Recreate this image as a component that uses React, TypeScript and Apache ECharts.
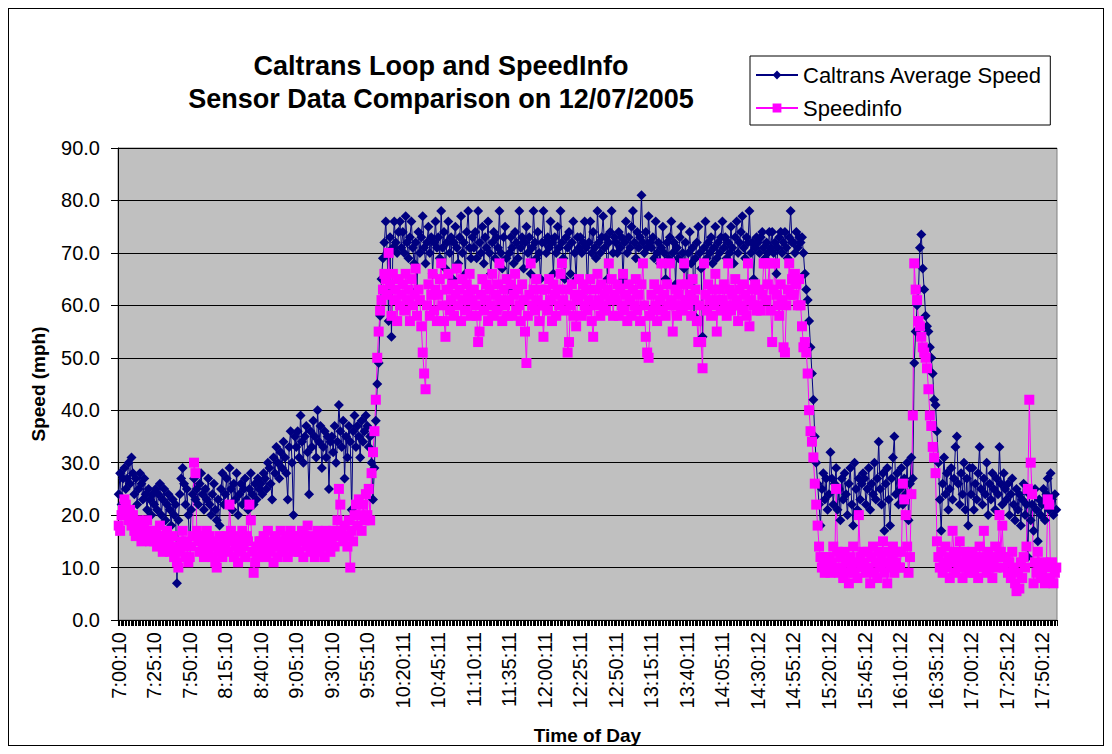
import React, { useEffect, useRef } from "react";
import * as echarts from "echarts";

// Caltrans Average Speed (mph), one reading per minute, grouped by 25-minute blocks
const caltrans_0700 = [24, 28, 22, 27, 29, 25, 27, 30, 26, 31, 28, 24, 27, 22, 25, 28, 26, 23, 27, 24, 21, 25, 23, 20, 24];
const caltrans_0725 = [22, 25, 21, 24, 26, 20, 23, 25, 19, 22, 24, 21, 18, 23, 20, 22, 7, 19, 24, 27, 29, 26, 22, 25, 20];
const caltrans_0750 = [14, 21, 24, 27, 23, 25, 22, 26, 28, 24, 21, 25, 23, 27, 22, 20, 24, 26, 21, 19, 23, 18, 25, 28, 22];
const caltrans_0815 = [24, 27, 22, 29, 25, 21, 26, 23, 28, 20, 24, 26, 22, 25, 27, 23, 21, 25, 28, 24, 22, 26, 23, 27, 25];
const caltrans_0840 = [26, 24, 28, 27, 25, 30, 29, 26, 23, 31, 28, 33, 30, 27, 32, 29, 34, 31, 28, 23, 33, 36, 30, 20, 35];
const caltrans_0905 = [33, 36, 31, 39, 34, 30, 35, 37, 32, 24, 36, 33, 38, 35, 31, 40, 34, 37, 29, 33, 36, 31, 35, 25, 34];
const caltrans_0930 = [35, 32, 37, 30, 34, 41, 36, 33, 38, 27, 35, 31, 37, 34, 21, 36, 39, 33, 37, 35, 31, 38, 34, 36, 39];
const caltrans_0955 = [37, 33, 35, 30, 23, 29, 38, 45, 49, 58, 65, 69, 72, 76, 70, 57, 73, 54, 71, 76, 72, 70, 74, 76, 71];
const caltrans_1020 = [74, 70, 77, 72, 69, 73, 76, 71, 68, 72, 63, 74, 70, 73, 77, 71, 68, 72, 75, 70, 73, 66, 72, 76, 71];
const caltrans_1045 = [73, 69, 78, 71, 74, 67, 72, 76, 70, 73, 65, 72, 75, 71, 68, 73, 77, 70, 72, 66, 74, 78, 71, 69, 73];
const caltrans_1110 = [71, 74, 69, 78, 72, 70, 75, 68, 73, 71, 76, 70, 66, 72, 74, 69, 73, 71, 78, 70, 67, 73, 75, 69, 63];
const caltrans_1135 = [70, 73, 71, 68, 74, 72, 69, 78, 71, 73, 67, 72, 75, 70, 73, 66, 71, 78, 72, 69, 74, 70, 65, 72, 78];
const caltrans_1200 = [72, 70, 73, 71, 76, 72, 66, 73, 70, 75, 71, 78, 72, 69, 65, 73, 71, 74, 66, 72, 76, 70, 65, 73, 71];
const caltrans_1225 = [73, 70, 72, 76, 71, 63, 72, 76, 70, 74, 71, 69, 78, 72, 70, 73, 77, 71, 73, 65, 72, 74, 78, 70, 73];
const caltrans_1250 = [72, 70, 74, 71, 73, 65, 72, 76, 70, 73, 71, 75, 78, 72, 69, 74, 71, 73, 81, 72, 70, 74, 71, 77, 72];
const caltrans_1315 = [71, 73, 69, 76, 70, 72, 68, 71, 75, 70, 65, 72, 69, 73, 76, 70, 72, 64, 71, 69, 73, 75, 70, 67, 72];
const caltrans_1340 = [60, 70, 74, 68, 71, 58, 69, 72, 75, 70, 67, 54, 71, 76, 69, 72, 70, 73, 68, 71, 75, 69, 72, 70, 73];
const caltrans_1405 = [76, 71, 73, 69, 72, 70, 75, 71, 68, 73, 76, 70, 72, 74, 77, 71, 69, 73, 72, 78, 70, 72, 65, 71, 73];
const caltrans_1430 = [72, 70, 73, 74, 71, 69, 72, 70, 74, 71, 74, 70, 72, 66, 71, 73, 74, 70, 72, 74, 71, 69, 73, 78, 72];
const caltrans_1455 = [72, 70, 74, 71, 73, 72, 73, 70, 66, 63, 61, 57, 52, 47, 42, 35, 30, 26, 22, 18, 25, 28, 23, 27, 21];
const caltrans_1520 = [24, 32, 27, 22, 26, 29, 21, 25, 19, 27, 23, 28, 24, 20, 26, 29, 22, 18, 30, 25, 21, 27, 23, 26, 28];
const caltrans_1545 = [27, 22, 25, 29, 21, 26, 24, 30, 23, 27, 34, 25, 22, 28, 17, 26, 29, 23, 18, 27, 31, 35, 24, 28, 22];
const caltrans_1610 = [25, 29, 22, 27, 24, 30, 19, 26, 31, 27, 49, 55, 60, 63, 71, 73.5, 67, 63, 58, 56, 55, 52, 50, 47, 42];
const caltrans_1635 = [41, 36, 30, 23, 17, 26, 31, 24, 28, 21, 25, 29, 23, 27, 33, 35, 26, 22, 28, 24, 30, 21, 27, 18, 29];
const caltrans_1700 = [24, 29, 21, 26, 23, 28, 33, 25, 22, 27, 24, 30, 20, 26, 23, 28, 25, 21, 27, 24, 33, 26, 22, 28, 25];
const caltrans_1725 = [23, 26, 20, 24, 27, 22, 19, 25, 21, 24, 18, 23, 26, 20, 22, 12, 24, 19, 22, 17, 25, 21, 15, 23, 20];
const caltrans_1750 = [22, 25, 19, 24, 27, 21, 28, 23, 20, 24, 21];

// Speedinfo (mph)
const speedinfo_0700 = [18, 17, 20, 21, 23, 22, 20, 19, 21, 18, 20, 17, 16, 18, 19, 17, 15, 16, 18, 17, 19, 16, 15, 17, 16];
const speedinfo_0725 = [15, 17, 14, 16, 18, 15, 13, 16, 14, 17, 15, 13, 14, 16, 12, 14, 11, 10, 13, 15, 17, 14, 12, 15, 11];
const speedinfo_0750 = [12, 14, 16, 30, 28, 17, 15, 13, 16, 14, 12, 15, 17, 13, 16, 14, 12, 15, 11, 10, 13, 16, 14, 12, 15];
const speedinfo_0815 = [14, 16, 13, 22, 17, 15, 12, 14, 16, 11, 13, 15, 17, 14, 12, 16, 15, 22, 19, 13, 9, 11, 14, 12, 15];
const speedinfo_0840 = [15, 13, 16, 14, 12, 17, 15, 13, 14, 11, 16, 14, 12, 15, 17, 13, 15, 14, 16, 12, 15, 17, 14, 13, 16];
const speedinfo_0905 = [14, 16, 13, 15, 17, 12, 16, 14, 18, 15, 13, 16, 14, 12, 15, 17, 13, 16, 14, 15, 12, 17, 14, 16, 13];
const speedinfo_0930 = [15, 17, 14, 16, 19, 25, 22, 17, 15, 18, 16, 14, 19, 10, 17, 15, 20, 22, 18, 23, 20, 17, 22, 19, 24];
const speedinfo_0955 = [20, 25, 19, 28, 32, 36, 42, 50, 55, 59, 61, 63, 66, 65, 62, 70, 64, 58, 66, 61, 63, 57, 65, 60, 62];
const speedinfo_1020 = [64, 59, 66, 61, 63, 57, 65, 60, 62, 67, 58, 63, 61, 56, 51, 47, 44, 60, 64, 58, 62, 66, 59, 63, 57];
const speedinfo_1045 = [62, 65, 68, 60, 57, 54, 63, 66, 59, 61, 64, 58, 62, 67, 60, 63, 57, 65, 61, 59, 64, 62, 66, 58, 61];
const speedinfo_1110 = [63, 60, 58, 53, 55, 62, 65, 59, 61, 64, 57, 63, 60, 66, 58, 62, 59, 64, 68, 61, 57, 63, 60, 65, 58];
const speedinfo_1135 = [61, 64, 58, 62, 66, 59, 63, 60, 57, 64, 61, 55, 49, 58, 62, 68, 60, 63, 59, 65, 61, 57, 63, 60, 54];
const speedinfo_1200 = [60, 63, 59, 65, 61, 57, 64, 62, 58, 63, 60, 66, 68, 61, 59, 63, 51, 53, 60, 64, 58, 62, 56, 61, 65];
const speedinfo_1225 = [62, 58, 64, 60, 63, 59, 61, 65, 57, 54, 60, 63, 66, 61, 58, 64, 60, 62, 59, 63, 68, 61, 65, 58, 62];
const speedinfo_1250 = [61, 64, 58, 63, 60, 66, 59, 62, 57, 64, 61, 58, 63, 60, 65, 59, 62, 57, 64, 68, 60, 54, 51, 50, 58];
const speedinfo_1315 = [62, 59, 64, 60, 57, 63, 61, 68, 59, 62, 58, 64, 60, 68, 61, 55, 60, 63, 58, 62, 60, 64, 59, 68, 61];
const speedinfo_1340 = [64, 60, 62, 58, 65, 61, 63, 57, 53, 60, 53, 48, 68, 62, 59, 64, 61, 58, 63, 60, 66, 55, 61, 63, 59];
const speedinfo_1405 = [61, 64, 60, 58, 68, 63, 59, 62, 60, 65, 61, 57, 63, 60, 64, 59, 62, 58, 68, 56, 61, 63, 60, 64, 59];
const speedinfo_1430 = [60, 63, 59, 62, 68, 68, 61, 64, 68, 59, 53, 63, 68, 62, 60, 58, 64, 61, 52, 51, 60, 63, 68, 62, 65];
const speedinfo_1455 = [62, 66, 64, 60, 65, 60, 56, 52, 53, 51, 47, 40, 36, 34, 31, 26, 22, 18, 14, 12, 10, 11, 9, 12, 10];
const speedinfo_1520 = [12, 9, 11, 14, 10, 25, 13, 9, 12, 10, 8, 13, 11, 9, 7, 12, 10, 14, 9, 11, 8, 20, 12, 10, 13];
const speedinfo_1545 = [11, 9, 13, 10, 7, 12, 14, 9, 11, 8, 13, 10, 12, 15, 9, 11, 7, 13, 10, 12, 14, 9, 11, 13, 10];
const speedinfo_1610 = [10, 13, 26, 23, 20, 14, 9, 12, 24, 39, 68, 63, 61, 57, 56, 54, 52, 51, 50, 48, 44, 39, 37, 33, 31];
const speedinfo_1635 = [28, 15, 12, 10, 13, 9, 11, 14, 10, 12, 8, 11, 17, 13, 9, 12, 10, 15, 11, 8, 13, 10, 12, 9, 11];
const speedinfo_1700 = [10, 13, 9, 12, 11, 8, 14, 10, 12, 17, 11, 9, 13, 10, 12, 8, 11, 14, 10, 12, 20, 13, 18, 10, 12];
const speedinfo_1725 = [12, 9, 11, 8, 13, 10, 7, 5.5, 9, 6, 11, 8, 12, 10, 14, 25, 42, 30, 24, 7, 11, 9, 13, 10, 8];
const speedinfo_1750 = [9, 11, 7, 10, 23, 22, 8, 11, 7, 9, 10];

const caltransSpeed = [
  ...caltrans_0700, ...caltrans_0725, ...caltrans_0750, ...caltrans_0815, ...caltrans_0840,
  ...caltrans_0905, ...caltrans_0930, ...caltrans_0955, ...caltrans_1020, ...caltrans_1045,
  ...caltrans_1110, ...caltrans_1135, ...caltrans_1200, ...caltrans_1225, ...caltrans_1250,
  ...caltrans_1315, ...caltrans_1340, ...caltrans_1405, ...caltrans_1430, ...caltrans_1455,
  ...caltrans_1520, ...caltrans_1545, ...caltrans_1610, ...caltrans_1635, ...caltrans_1700,
  ...caltrans_1725, ...caltrans_1750,
];
const speedinfoSpeed = [
  ...speedinfo_0700, ...speedinfo_0725, ...speedinfo_0750, ...speedinfo_0815, ...speedinfo_0840,
  ...speedinfo_0905, ...speedinfo_0930, ...speedinfo_0955, ...speedinfo_1020, ...speedinfo_1045,
  ...speedinfo_1110, ...speedinfo_1135, ...speedinfo_1200, ...speedinfo_1225, ...speedinfo_1250,
  ...speedinfo_1315, ...speedinfo_1340, ...speedinfo_1405, ...speedinfo_1430, ...speedinfo_1455,
  ...speedinfo_1520, ...speedinfo_1545, ...speedinfo_1610, ...speedinfo_1635, ...speedinfo_1700,
  ...speedinfo_1725, ...speedinfo_1750,
];

// Time-of-day category labels (one per minute; sensor clock drifts by a second twice)
const START_SECONDS = 7 * 3600 + 10;
const pad = (n: number) => (n < 10 ? "0" + n : "" + n);
const timeLabels = caltransSpeed.map((_, i) => {
  const s = START_SECONDS + i * 60 + (i >= 188 ? 1 : 0) + (i >= 438 ? 1 : 0);
  const h = Math.floor(s / 3600);
  const m = Math.floor((s % 3600) / 60);
  const sec = s % 60;
  return `${h}:${pad(m)}:${pad(sec)}`;
});

const FONT = "'Liberation Sans', Arial, Helvetica, sans-serif";

export default function App() {
  const ref = useRef<HTMLDivElement>(null);
  useEffect(() => {
    if (!ref.current) return;
    const chart = echarts.init(ref.current, null, { renderer: "svg" });
    chart.setOption({
      animation: false,
      backgroundColor: "#ffffff",
      textStyle: { fontFamily: FONT },
      graphic: [
        {
          type: "text",
          x: 432,
          y: 40,
          style: {
            text: "Caltrans Loop and SpeedInfo\nSensor Data Comparison on 12/07/2005",
            font: `bold 27px ${FONT}`,
            fill: "#000",
            textAlign: "center",
            lineHeight: 33,
          },
        },
      ],
      legend: {
        left: 741,
        top: 47,
        orient: "vertical",
        backgroundColor: "#ffffff",
        borderColor: "#000",
        borderWidth: 1,
        borderRadius: 0,
        padding: [8, 8, 6, 5],
        itemGap: 11,
        itemWidth: 42,
        itemHeight: 11,
        textStyle: { fontSize: 22, color: "#000", fontFamily: FONT },
        data: ["Caltrans Average Speed", "Speedinfo"],
      },
      grid: {
        left: 109,
        top: 139,
        right: 46,
        bottom: 125,
        show: true,
        backgroundColor: "#c0c0c0",
        borderColor: "#808080",
        borderWidth: 1,
        containLabel: false,
        outerBoundsMode: "none",
      },
      xAxis: {
        type: "category",
        data: timeLabels,
        boundaryGap: true,
        name: "Time of Day",
        nameLocation: "middle",
        nameGap: 106,
        nameTextStyle: { fontSize: 19, fontWeight: "bold", color: "#000", fontFamily: FONT },
        axisLine: { show: true, lineStyle: { color: "#000", width: 1 } },
        axisTick: { show: true, interval: 0, length: 6, lineStyle: { color: "#000", width: 1 } },
        axisLabel: {
          interval: 24,
          rotate: 90,
          margin: 12,
          fontSize: 20,
          color: "#000",
          fontFamily: FONT,
        },
        splitLine: { show: false },
      },
      yAxis: {
        type: "value",
        min: 0,
        max: 90,
        interval: 10,
        name: "Speed (mph)",
        nameLocation: "middle",
        nameRotate: 90,
        nameGap: 70,
        nameTextStyle: { fontSize: 19, fontWeight: "bold", color: "#000", fontFamily: FONT },
        axisLine: { show: true, lineStyle: { color: "#000", width: 1 } },
        axisTick: { show: true, length: 7, lineStyle: { color: "#000", width: 1 } },
        axisLabel: {
          formatter: (v: number) => v.toFixed(1),
          margin: 18,
          fontSize: 20,
          color: "#000",
          fontFamily: FONT,
        },
        splitLine: { show: true, lineStyle: { color: "#000", width: 1 } },
      },
      series: [
        {
          name: "Caltrans Average Speed",
          type: "line",
          data: caltransSpeed,
          symbol: "diamond",
          symbolSize: 10,
          showAllSymbol: true,
          color: "#000080",
          lineStyle: { color: "#000080", width: 1 },
          itemStyle: { color: "#000080" },
          silent: true,
        },
        {
          name: "Speedinfo",
          type: "line",
          data: speedinfoSpeed,
          symbol: "rect",
          symbolSize: 10,
          showAllSymbol: true,
          color: "#ff00ff",
          lineStyle: { color: "#ff00ff", width: 1 },
          itemStyle: { color: "#ff00ff" },
          silent: true,
        },
      ],
    });
    return () => chart.dispose();
  }, []);
  return (
    <div style={{ width: 1096, height: 738, border: "1px solid #000", boxSizing: "border-box", background: "#fff" }}>
      <div ref={ref} style={{ width: 1094, height: 736 }} />
    </div>
  );
}
